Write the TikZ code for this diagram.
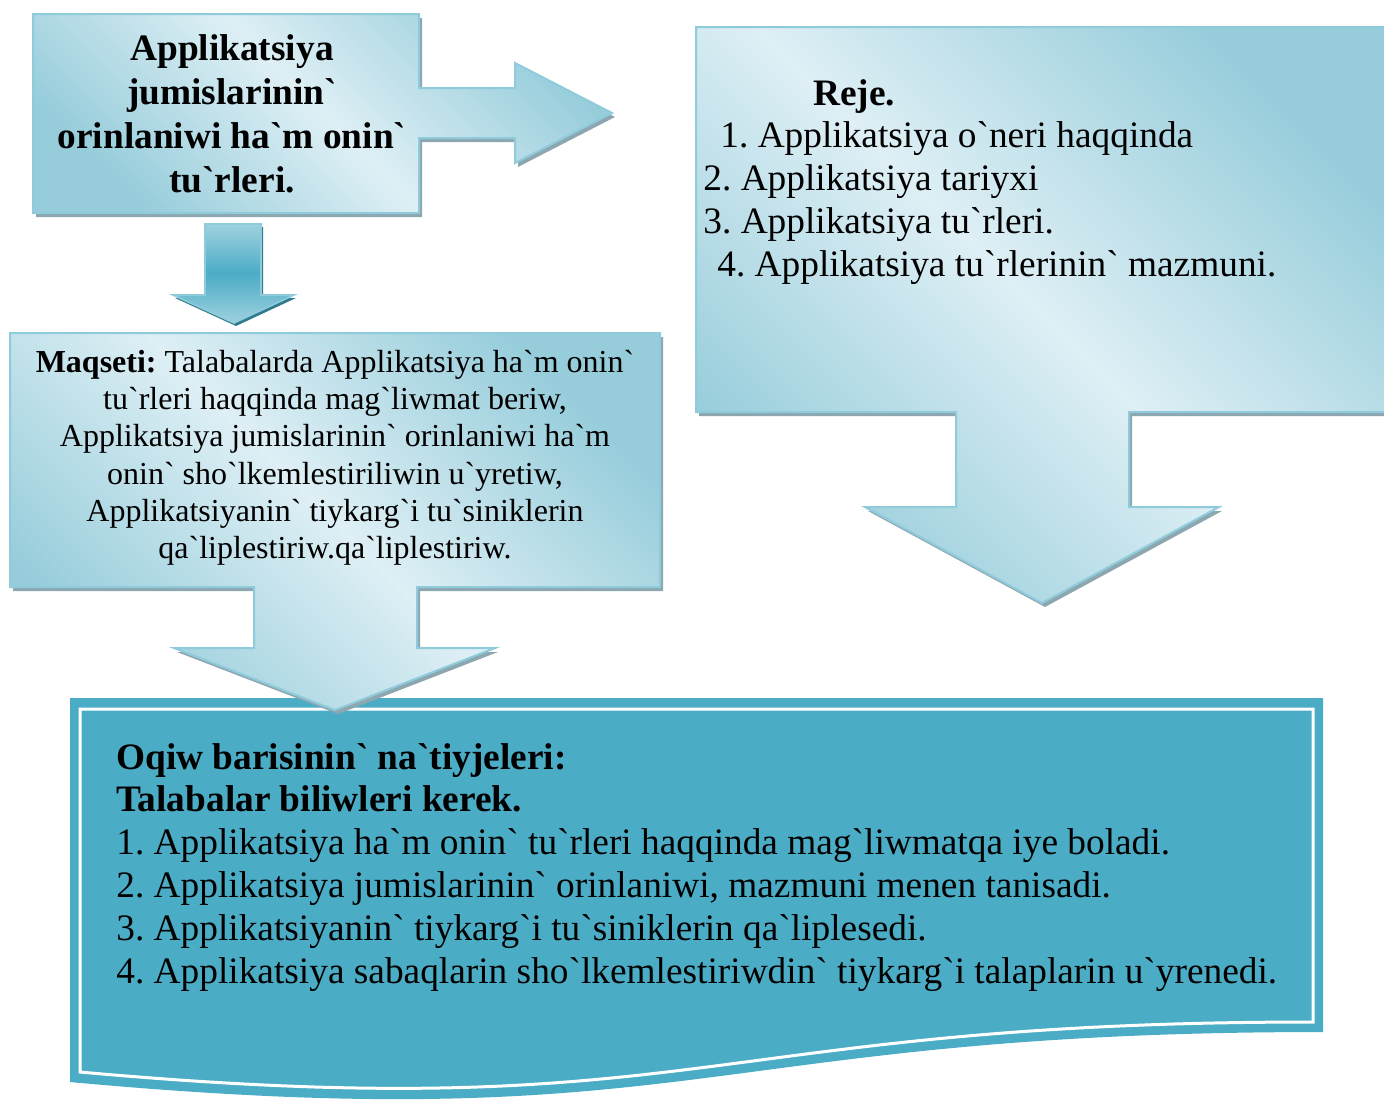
\documentclass[tikz,border=0pt]{standalone}
\usepackage{fontspec}
\newfontfamily\tnr{Liberation Serif}
\definecolor{lite}{HTML}{DEEFF5}
\definecolor{darkc}{HTML}{97CDDB}
\definecolor{edgec}{HTML}{8FCBDB}
\definecolor{shadc}{HTML}{8DA7B1}
\definecolor{tealc}{HTML}{4BACC6}
\definecolor{tealdark}{HTML}{2F7B8E}
\definecolor{tealmid}{HTML}{9ED1DF}
\newcommand\shpTitle{(33,14) -- (419,14) -- (419,88) -- (515,88) -- (515,63) -- (612,113) -- (515,163) -- (515,138) -- (419,138) -- (419,213) -- (33,213) -- cycle}
\newcommand\shpSmall{(205,224) -- (261,224) -- (261,295) -- (294,295) -- (234,323) -- (173,295) -- (205,295) -- cycle}
\newcommand\shpMaq{(10,333) -- (660,333) -- (660,587) -- (417,587) -- (417,648) -- (495,648) -- (335,710) -- (174,648) -- (254,648) -- (254,587) -- (10,587) -- cycle}
\newcommand\shpReje{(696,27) -- (1392,27) -- (1392,412) -- (1129,412) -- (1129,507) -- (1219,507) -- (1042,603) -- (865,507) -- (956,507) -- (956,412) -- (696,412) -- cycle}
\frenchspacing
\begin{document}
\frenchspacing
\begin{tikzpicture}[x=0.5pt,y=-0.5pt,
  callout/.style={draw=edgec, line width=1pt, top color=darkc, bottom color=darkc, middle color=lite, shading angle=-45},
  shadowfill/.style={fill=shadc, xshift=1.5pt, yshift=-2pt},
  bigtxt/.style={inner sep=0pt, font=\tnr\frenchspacing\fontsize{18.67}{21.4}\selectfont},
  smalltxt/.style={inner sep=0pt, font=\tnr\frenchspacing\fontsize{16}{18.6}\selectfont}]
\useasboundingbox (0,0) rectangle (1384,1099);
\clip (0,0) rectangle (1384,1099);
% bottom result box
\fill[tealc] (70,698) -- (1323,698) -- (1323,1032) .. controls (700,1032) and (700,1140) .. (70,1082) -- cycle;
\draw[white, line width=1.5pt] (80,709) -- (1313,709) -- (1313,1022) .. controls (700,1022) and (700,1128) .. (80,1072) -- cycle;
% plan callout
\fill[shadowfill] \shpReje;
\path[callout] \shpReje;
% title callout
\fill[shadowfill] \shpTitle;
\path[callout] \shpTitle;
% small dark arrow
\fill[tealdark, xshift=1pt, yshift=-1.5pt] \shpSmall;
\path[draw=edgec, line width=0.8pt, top color=tealmid, bottom color=tealmid, middle color=tealc] \shpSmall;
% aim callout
\fill[shadowfill] \shpMaq;
\path[callout] \shpMaq;
% texts
\node[bigtxt, font=\tnr\frenchspacing\bfseries\fontsize{18.67}{22}\selectfont, anchor=base] (title) at (232,60)
  {\begin{tabular}[t]{@{}c@{}}Applikatsiya\\jumislarinin`\\orinlaniwi ha`m onin`\\tu`rleri.\end{tabular}};
\node[bigtxt, anchor=base west] (reje) at (703,105)
  {\begin{tabular}[t]{@{}l@{}}\hspace*{55pt}\textbf{Reje.}\\
   \hspace*{8.5pt}1. Applikatsiya o`neri haqqinda\\
   2. Applikatsiya tariyxi\\
   3. Applikatsiya tu`rleri.\\
   \hspace*{7pt}4. Applikatsiya tu`rlerinin` mazmuni.\end{tabular}};
\node[smalltxt, anchor=base] (maq) at (335,372.5)
  {\begin{tabular}[t]{@{}c@{}}\textbf{Maqseti:} Talabalarda Applikatsiya ha`m onin`\\
   tu`rleri haqqinda mag`liwmat beriw,\\
   Applikatsiya jumislarinin` orinlaniwi ha`m\\
   onin` sho`lkemlestiriliwin u`yretiw,\\
   Applikatsiyanin` tiykarg`i tu`siniklerin\\
   qa`liplestiriw.qa`liplestiriw.\end{tabular}};
\node[bigtxt, anchor=base west] (res) at (116,769)
  {\begin{tabular}[t]{@{}l@{}}\textbf{Oqiw barisinin` na`tiyjeleri:}\\
   \textbf{Talabalar biliwleri kerek.}\\
   1. Applikatsiya ha`m onin` tu`rleri haqqinda mag`liwmatqa iye boladi.\\
   2. Applikatsiya jumislarinin` orinlaniwi, mazmuni menen tanisadi.\\
   3. Applikatsiyanin` tiykarg`i tu`siniklerin qa`liplesedi.\\
   4. Applikatsiya sabaqlarin sho`lkemlestiriwdin` tiykarg`i talaplarin u`yrenedi.\end{tabular}};
\end{tikzpicture}
\end{document}
